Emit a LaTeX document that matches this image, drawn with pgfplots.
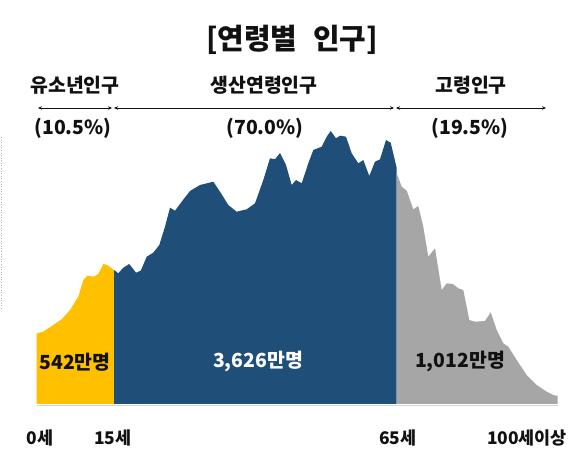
\documentclass[border=0pt]{standalone}
\usepackage{fontspec}
\setmainfont{Noto Sans CJK KR}
\usepackage{pgfplots}
\pgfplotsset{compat=1.18}
\usetikzlibrary{arrows.meta}
\definecolor{ycol}{HTML}{FFC000}
\definecolor{bcol}{HTML}{1F4E79}
\definecolor{gcol}{HTML}{A6A6A6}
\definecolor{tcol}{HTML}{111111}
\definecolor{basecol}{HTML}{CCD5E0}
\begin{document}
\begin{tikzpicture}
\begin{axis}[width=586bp, height=466bp, scale only axis,
  xmin=0, xmax=586, ymin=-62, ymax=404,
  hide axis, clip=false]
\path (axis cs:0,-62) rectangle (axis cs:586,404);
% baseline
\addplot[draw=basecol, line width=1.8pt] coordinates {(36.7,-1.5) (557.7,-1.5)};
% youth
\addplot[fill=ycol, draw=none] coordinates {
(36.7,0) (36.7,70.7) (43.3,72.3) (53.3,79) (61.7,84.7) (70,94) (78.3,107.3)
(83.3,124) (87.3,128.3) (93.3,127.3) (98.3,130) (103.3,140) (107.3,139)
(114,134) (114,0)} \closedcycle;
% working age
\addplot[fill=bcol, draw=none] coordinates {
(114,0) (114,134) (118.3,130.7) (123.3,136.3) (129.3,140) (136,131.3)
(140.7,133.3) (146.7,147.3) (153.3,151.3) (159.3,159) (165,177.3) (170,196.3)
(175,193.3) (181.7,202.3) (190,213) (200,219) (213.3,222.3) (220,212.3)
(228.3,199) (236.7,192.3) (246.7,194.7) (255,200.7) (263.3,224) (270,245.7)
(275,244.7) (280,251) (286,239) (291.7,219) (296,224) (301.7,220.7)
(308.3,240.7) (313.3,254) (321.7,257.3) (326.7,267.3) (330.7,273) (336,265.7)
(340,268.3) (346,267.3) (351.7,250.7) (358.3,240.7) (363.3,244) (369.3,228)
(375,242.3) (380,244.7) (386,264) (390.7,261.3) (396.7,236) (396.7,0)} \closedcycle;
% elderly
\addplot[fill=gcol, draw=none] coordinates {
(396.7,0) (396.7,230.7) (401.7,217.3) (406.7,213.3) (413.3,194.7) (418.3,198)
(423.3,177.3) (428.3,147.3) (435,155.7) (441.7,114) (446.7,120.7) (452.7,120)
(458.3,115.7) (463.3,114) (469.3,84) (475,82.3) (485,83) (490.7,91.7)
(496.7,74) (503.3,60.7) (508.3,57.3) (516.7,44) (526.7,29) (536.7,19)
(546.7,12.3) (553.3,9) (557.7,8) (557.7,0)} \closedcycle;
% left dotted artifact
\draw[gray!60, dotted, line width=0.6pt] (axis cs:1.5,267) -- (axis cs:1.5,94);
% title
\node[font=\bfseries\fontsize{29}{32}\selectfont, text=tcol] at (axis cs:292,364) {[연령별\hspace{0.55em}인구]};
% group labels
\begin{scope}[every node/.style={font=\bfseries\fontsize{19.5}{21}\selectfont, text=tcol}]
\node at (axis cs:75,319) {유소년인구};
\node at (axis cs:264,319) {생산연령인구};
\node at (axis cs:471,319) {고령인구};
\node at (axis cs:73,276) {(10.5\%)};
\node at (axis cs:265,276) {(70.0\%)};
\node at (axis cs:470,276) {(19.5\%)};
\node at (axis cs:75,42) {542만명};
\node[text=white] at (axis cs:258,42) {3,626만명};
\node at (axis cs:460,42) {1,012만명};
\end{scope}
% arrows
\begin{scope}[line width=0.9pt, tcol, {Stealth[length=4pt,width=3.5pt]}-{Stealth[length=4pt,width=3.5pt]}]
\draw (axis cs:38,296) -- (axis cs:112,296);
\draw (axis cs:114,296) -- (axis cs:394,296);
\draw (axis cs:396,296) -- (axis cs:546,296);
\end{scope}
% age labels
\begin{scope}[every node/.style={font=\bfseries\fontsize{17.5}{19}\selectfont, text=tcol}]
\node at (axis cs:40,-34) {0세};
\node at (axis cs:113,-34) {15세};
\node at (axis cs:398,-34) {65세};
\node at (axis cs:527,-34) {100세이상};
\end{scope}
\end{axis}
\end{tikzpicture}
\end{document}
